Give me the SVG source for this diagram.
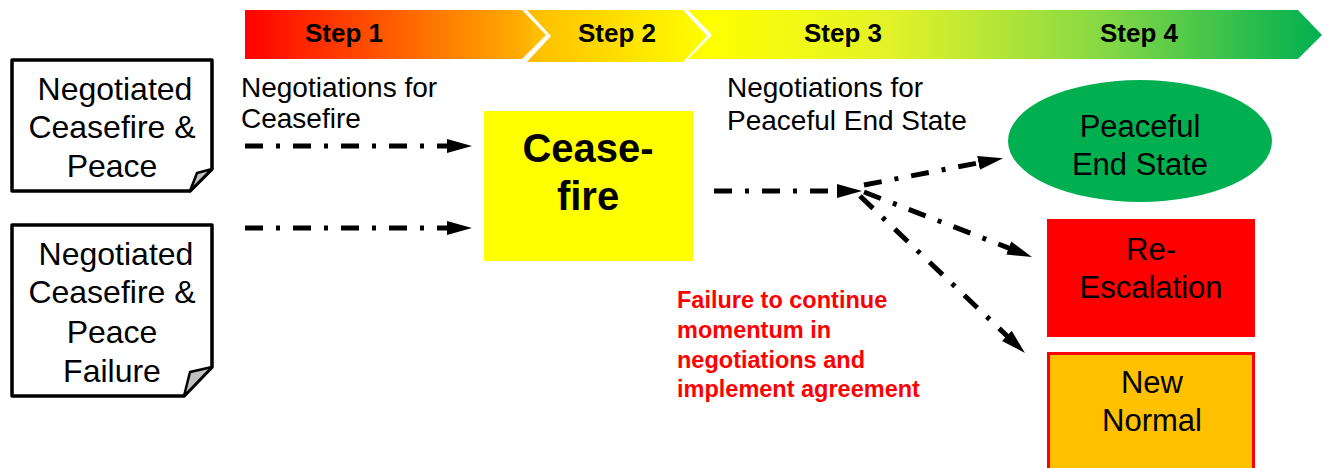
<svg xmlns="http://www.w3.org/2000/svg" width="1329" height="468" viewBox="0 0 1329 468">
<style>
text{font-family:"Liberation Sans",Arial,sans-serif;fill:#000}
.doc{font-size:32px;text-anchor:middle}
.lbl{font-size:28px}
.step{font-size:26px;font-weight:bold;text-anchor:middle}
.big{font-size:40px;font-weight:bold;text-anchor:middle}
.ctr{font-size:31px;text-anchor:middle}
.red{font-size:23.5px;font-weight:bold;fill:#ff0000}
.docbox{fill:#fff;stroke:#000;stroke-width:3.5;stroke-linejoin:round}
.fold{fill:#c0c0c0;stroke:#000;stroke-width:2.5;stroke-linejoin:round}
.conn{fill:none;stroke:#000;stroke-width:5;stroke-dasharray:18 13 4 13;marker-end:url(#ah)}
</style>
<defs>
<linearGradient id="band" gradientUnits="userSpaceOnUse" x1="245" y1="0" x2="1322" y2="0">
<stop offset="0" stop-color="#ff0000"/>
<stop offset="0.26" stop-color="#ffb000"/>
<stop offset="0.27" stop-color="#ffc000"/>
<stop offset="0.43" stop-color="#ffff00"/>
<stop offset="0.6" stop-color="#e2f229"/>
<stop offset="0.8" stop-color="#84d845"/>
<stop offset="1" stop-color="#00b050"/>
</linearGradient>
<marker id="ah" markerUnits="userSpaceOnUse" markerWidth="26" markerHeight="16" viewBox="0 0 26 16" refX="1" refY="8" orient="auto">
<path d="M0,1 L25,8 L0,15 Z" fill="#000"/>
</marker>
</defs>
<rect width="1329" height="468" fill="#fff"/>

<g id="banner">
<path d="M245,10 H522 L546,35 L522,59 H245 Z" fill="url(#band)"/>
<path d="M527,10 H683 L707,36 L683,62 H527 L551,36 Z" fill="url(#band)"/>
<path d="M688,10 H1298 L1322,35 L1298,59 H688 L712,35 Z" fill="url(#band)"/>
<text class="step" x="344" y="42">Step 1</text>
<text class="step" x="617" y="42">Step 2</text>
<text class="step" x="843" y="42">Step 3</text>
<text class="step" x="1139" y="42">Step 4</text>
</g>

<g id="node-peace">
<path class="docbox" d="M12,60 H212 V169 L190,191 H12 Z"/>
<path class="fold" d="M212,169 L197,173 L190,191 Z"/>
<text class="doc" x="115" y="100">Negotiated</text>
<text class="doc" x="112" y="138">Ceasefire &amp;</text>
<text class="doc" x="112" y="177">Peace</text>
</g>

<g id="node-failure">
<path class="docbox" d="M12,225 H212 V367 L184,396 H12 Z"/>
<path class="fold" d="M212,367 L190,372 L184,396 Z"/>
<text class="doc" x="116" y="265">Negotiated</text>
<text class="doc" x="112" y="303">Ceasefire &amp;</text>
<text class="doc" x="112" y="343">Peace</text>
<text class="doc" x="112" y="382">Failure</text>
</g>

<g id="labels">
<text class="lbl" x="241" y="97">Negotiations for</text>
<text class="lbl" x="241" y="128">Ceasefire</text>
<text class="lbl" x="727" y="97">Negotiations for</text>
<text class="lbl" x="727" y="130">Peaceful End State</text>
<text class="red" x="677" y="308">Failure to continue</text>
<text class="red" x="677" y="338">momentum in</text>
<text class="red" x="677" y="368">negotiations and</text>
<text class="red" x="677" y="397">implement agreement</text>
</g>

<g id="node-ceasefire">
<rect x="484" y="111" width="209" height="150" fill="#ffff00"/>
<text class="big" x="588" y="162">Cease-</text>
<text class="big" x="588" y="210">fire</text>
</g>

<g id="node-peaceful">
<ellipse cx="1140" cy="141" rx="132" ry="61" fill="#00b050"/>
<text class="ctr" x="1140" y="137">Peaceful</text>
<text class="ctr" x="1140" y="175">End State</text>
</g>

<g id="node-reescalation">
<rect x="1047" y="219" width="208" height="118" fill="#ff0000"/>
<text class="ctr" x="1151" y="260">Re-</text>
<text class="ctr" x="1151" y="298">Escalation</text>
</g>

<g id="node-newnormal">
<rect x="1048.5" y="353.5" width="205" height="116" fill="#ffc000" stroke="#ff0000" stroke-width="3"/>
<text class="ctr" x="1152" y="393">New</text>
<text class="ctr" x="1152" y="431">Normal</text>
</g>

<g id="connectors">
<path class="conn" d="M245,146 H448"/>
<path class="conn" d="M245,228 H448"/>
<path class="conn" d="M714,191 H838"/>
<path class="conn" d="M864,185 L979.5,162.7"/>
<path class="conn" d="M864,192 L1009.6,248.4"/>
<path class="conn" d="M860,196 L1007.6,336.5"/>
</g>
</svg>
